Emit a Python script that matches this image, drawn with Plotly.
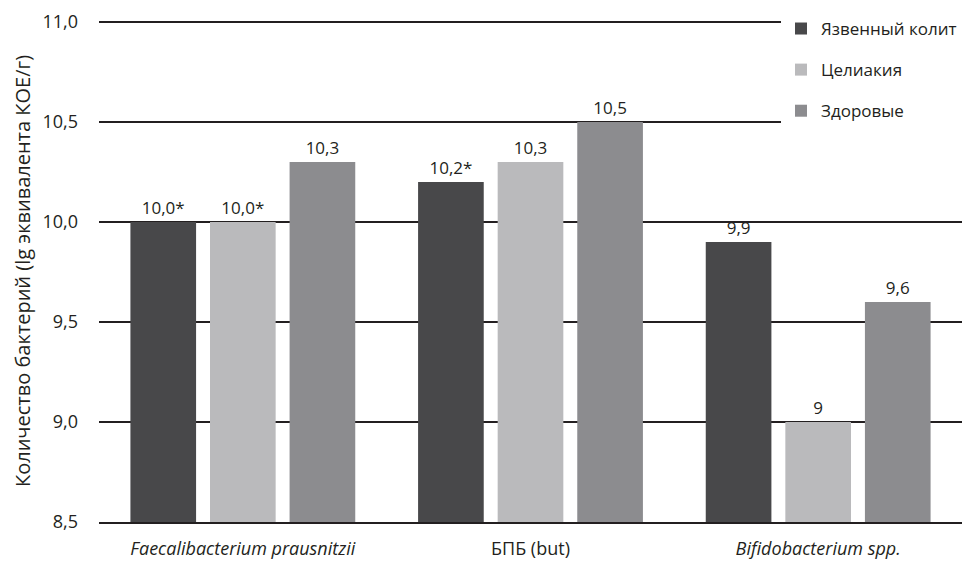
import plotly.graph_objects as go

categories = ["<i>Faecalibacterium prausnitzii</i>", "БПБ (but)", "<i>Bifidobacterium spp.</i>"]
series_names = ["Язвенный колит", "Целиакия", "Здоровые"]
uc_values = [10.0, 10.2, 9.9]
celiac_values = [10.0, 10.3, 9.0]
healthy_values = [10.3, 10.5, 9.6]
uc_labels = ["10,0*", "10,2*", "9,9"]
celiac_labels = ["10,0*", "10,3", "9"]
healthy_labels = ["10,3", "10,5", "9,6"]
tick_vals = [8.5, 9.0, 9.5, 10.0, 10.5, 11.0]
tick_text = ["8,5", "9,0", "9,5", "10,0", "10,5", "11,0"]

colors = ["#48484a", "#bababc", "#8c8c8f"]
FONT = "Open Sans"
FS = 18
TXT = "#231f20"

fig = go.Figure()
for i, (name, vals, labs) in enumerate(zip(series_names,
                                          [uc_values, celiac_values, healthy_values],
                                          [uc_labels, celiac_labels, healthy_labels])):
    fig.add_trace(go.Bar(
        x=categories, y=vals, name=name, text=labs,
        textposition="outside", cliponaxis=False,
        textfont=dict(family=FONT, size=FS - 1, color=TXT),
        marker=dict(color=colors[i], line=dict(width=0)),
        legendgroup=f"g{i}",
    ))

fig.update_layout(
    width=967, height=565,
    margin=dict(l=99, r=5, t=20, b=39),
    paper_bgcolor="white", plot_bgcolor="white",
    barmode="group", bargap=0.17, bargroupgap=0.175,
    font=dict(family=FONT, size=FS, color=TXT),
    showlegend=True,
    legend=dict(x=1.0, xanchor="right", y=1.018, yanchor="top",
                bgcolor="white", font=dict(family=FONT, size=FS - 1, color=TXT),
                tracegroupgap=16, itemwidth=30, borderwidth=0),
    xaxis=dict(showgrid=False, showline=True, linecolor=TXT, linewidth=1.5,
               ticks="", ticklabelstandoff=10,
               tickfont=dict(family=FONT, size=FS, color=TXT)),
    yaxis=dict(range=[8.5, 11.01], tickvals=tick_vals, ticktext=tick_text,
               showgrid=True, gridcolor=TXT, gridwidth=1.5,
               zeroline=False, showline=False, ticks="", ticklabelstandoff=20,
               tickfont=dict(family=FONT, size=FS, color=TXT),
               title=dict(text="Количество бактерий (lg эквивалента КОЕ/г)",
                          font=dict(family=FONT, size=20, color=TXT),
                          standoff=6)),
)

fig.write_html("out.html")
